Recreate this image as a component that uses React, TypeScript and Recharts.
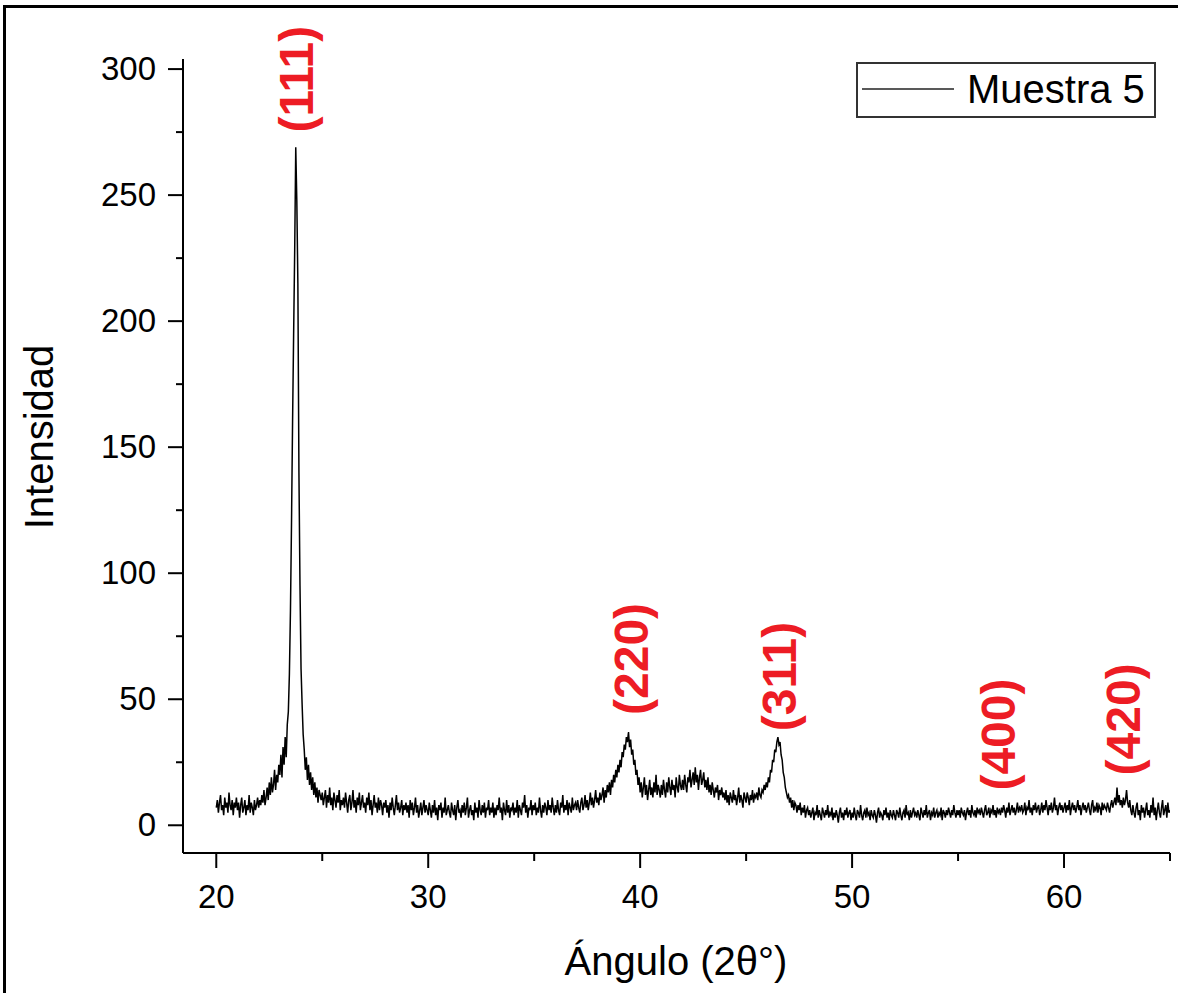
import { LineChart, Line, XAxis, YAxis, Legend, ReferenceDot, Label } from "recharts";

// XRD scan, 2θ from 20.00° in 0.05° steps (one row = one degree)
const angleStart = 20;
const angleStep = 0.05;

const intensity20s = [
  7, 10, 5, 9, 12, 6, 8, 4, 11, 7, 9, 5, 13, 8, 6, 10, 4, 9, 7, 11,
  6, 9, 3, 8, 11, 5, 7, 10, 4, 8, 6, 12, 5, 9, 7, 4, 10, 6, 8, 11,
  7, 10, 8, 12, 9, 14, 8, 11, 15, 10, 17, 12, 19, 13, 16, 22, 14, 20, 17, 24,
  20, 28, 19, 31, 24, 35, 27, 40, 45, 60, 85, 120, 160, 195, 228, 269, 248, 215, 140, 95,
  62, 48, 36, 30, 22, 27, 18, 24, 16, 21, 14, 19, 12, 17, 11, 15, 9, 14, 12, 10,
  13, 8, 11, 14, 7, 12, 9, 15, 8, 11, 6, 13, 10, 7, 12, 9, 14, 6, 10, 8,
  11, 7, 13, 9, 5, 10, 12, 6, 9, 14, 7, 10, 5, 11, 8, 13, 6, 9, 12, 7,
  9, 5, 11, 8, 13, 6, 10, 4, 8, 12, 7, 9, 5, 11, 6, 10, 8, 4, 9, 7,
  10, 5, 8, 3, 9, 6, 11, 7, 4, 8, 12, 6, 9, 5, 7, 10, 4, 8, 6, 9,
  5, 8, 3, 10, 6, 9, 4, 7, 11, 5, 8, 3, 6, 9, 4, 7, 10, 5, 8, 6,
];
const intensity30s = [
  4, 9, 6, 3, 8, 5, 10, 4, 7, 2, 8, 6, 9, 3, 7, 5, 11, 4, 6, 8,
  5, 3, 9, 6, 4, 8, 2, 7, 10, 5, 6, 3, 8, 5, 9, 4, 7, 11, 3, 6,
  8, 4, 6, 2, 9, 5, 7, 3, 10, 6, 4, 8, 5, 9, 3, 7, 6, 10, 4, 7,
  5, 9, 3, 7, 4, 8, 6, 11, 5, 7, 2, 9, 6, 4, 10, 5, 8, 3, 7, 6,
  9, 4, 7, 5, 10, 3, 8, 6, 4, 9, 7, 12, 5, 8, 3, 7, 6, 10, 4, 8,
  6, 9, 4, 7, 5, 11, 6, 3, 8, 5, 9, 7, 4, 10, 6, 8, 5, 11, 7, 4,
  8, 5, 10, 6, 4, 9, 7, 12, 5, 8, 6, 10, 4, 9, 7, 5, 11, 6, 8, 9,
  6, 10, 7, 5, 9, 11, 6, 8, 12, 7, 10, 6, 9, 13, 8, 11, 7, 10, 14, 9,
  11, 8, 13, 10, 12, 15, 9, 14, 11, 16, 13, 17, 12, 18, 15, 20, 17, 22, 19, 24,
  21, 26, 23, 29, 27, 32, 30, 35, 33, 37, 31, 34, 28, 30, 24, 26, 20, 22, 16, 19,
];
const intensity40s = [
  13, 17, 11, 15, 19, 12, 16, 10, 14, 18, 12, 15, 11, 17, 13, 20, 12, 16, 14, 11,
  16, 12, 18, 14, 11, 17, 13, 19, 15, 12, 18, 14, 16, 11, 19, 15, 13, 20, 16, 14,
  18, 14, 20, 16, 13, 19, 17, 22, 15, 18, 21, 16, 23, 17, 20, 14, 19, 22, 16, 18,
  21, 15, 18, 14, 19, 13, 16, 12, 17, 14, 11, 15, 13, 16, 10, 14, 12, 15, 11, 13,
  10, 14, 9, 12, 8, 13, 11, 9, 14, 10, 12, 8, 11, 15, 9, 12, 10, 7, 13, 11,
  9, 13, 11, 8, 12, 10, 14, 9, 12, 11, 13, 10, 15, 12, 11, 14, 13, 16, 14, 17,
  15, 19, 17, 22, 21, 26, 25, 30, 29, 33, 35, 32, 33, 28, 26, 21, 19, 15, 13, 11,
  12, 9, 11, 7, 10, 6, 9, 8, 5, 8, 6, 9, 4, 7, 5, 8, 3, 6, 7, 4,
  6, 3, 5, 7, 2, 5, 4, 8, 3, 6, 4, 2, 7, 5, 3, 6, 4, 8, 3, 5,
  4, 7, 2, 5, 3, 6, 4, 1, 5, 7, 3, 5, 2, 6, 4, 7, 3, 5, 6, 2,
];
const intensity50s = [
  5, 3, 7, 4, 2, 6, 5, 3, 8, 4, 2, 5, 6, 3, 7, 4, 5, 2, 6, 4,
  3, 6, 4, 1, 5, 7, 3, 5, 4, 2, 6, 4, 7, 3, 5, 2, 6, 4, 3, 6,
  4, 2, 6, 5, 3, 7, 4, 2, 5, 6, 3, 8, 4, 5, 2, 6, 3, 5, 7, 4,
  5, 3, 6, 4, 2, 7, 5, 3, 6, 4, 8, 3, 5, 6, 2, 5, 4, 7, 3, 5,
  6, 3, 5, 4, 7, 2, 6, 5, 3, 6, 4, 7, 5, 3, 6, 4, 8, 5, 3, 6,
  4, 6, 3, 7, 5, 4, 6, 2, 5, 7, 4, 6, 3, 8, 5, 4, 6, 3, 7, 5,
  6, 4, 7, 5, 3, 6, 8, 4, 5, 7, 3, 6, 5, 8, 4, 6, 3, 7, 5, 6,
  4, 7, 5, 8, 6, 3, 7, 5, 9, 4, 6, 8, 5, 7, 4, 6, 9, 5, 7, 6,
  8, 5, 6, 9, 4, 7, 6, 10, 5, 7, 4, 8, 6, 9, 5, 7, 8, 4, 6, 9,
  5, 8, 6, 10, 7, 4, 8, 6, 9, 5, 7, 11, 6, 8, 4, 7, 9, 6, 8, 5,
];
const intensity60s = [
  7, 9, 5, 8, 6, 10, 4, 7, 9, 6, 8, 5, 7, 10, 6, 8, 4, 7, 9, 6,
  8, 5, 7, 9, 6, 4, 8, 10, 5, 7, 6, 9, 5, 8, 7, 4, 9, 6, 8, 7,
  6, 9, 7, 5, 8, 10, 7, 9, 11, 8, 15, 9, 12, 8, 10, 7, 11, 8, 10, 14,
  9, 7, 10, 6, 4, 8, 5, 3, 7, 9, 4, 6, 2, 8, 5, 7, 3, 6, 9, 4,
  6, 3, 8, 5, 11, 4, 7, 2, 6, 9, 5, 3, 7, 10, 4, 6, 8, 3, 9, 5,
  6,
];

const xTicks = [20, 25, 30, 35, 40, 45, 50, 55, 60, 65];
const yTicks = [0, 25, 50, 75, 100, 125, 150, 175, 200, 225, 250, 275, 300];

const peakLabels = ["(111)", "(220)", "(311)", "(400)", "(420)"];
const peakLabelAngles = [23.77, 39.6, 46.57, 56.93, 62.82];
const peakLabelHeights = [296, 66, 59, 36, 42];

const data = [...intensity20s, ...intensity30s, ...intensity40s, ...intensity50s, ...intensity60s].map(
  (v, i) => ({ angle: +(angleStart + i * angleStep).toFixed(2), intensity: v })
);

const FONT = "'Liberation Sans', Arial, sans-serif";

function XTick(props: any) {
  const { x, y, payload } = props;
  const major = payload.value % 10 === 0;
  return (
    <g>
      <line x1={x} x2={x} y1={y} y2={y + (major ? 15 : 8)} stroke="#000" strokeWidth={2} />
      {major && payload.value < 65 && (
        <text x={x} y={y + 55} textAnchor="middle" fontSize={33} fontFamily={FONT} fill="#000">
          {payload.value}
        </text>
      )}
    </g>
  );
}

function YTick(props: any) {
  const { x, y, payload } = props;
  const major = payload.value % 50 === 0;
  return (
    <g>
      <line x1={x} x2={x - (major ? 15 : 7)} y1={y} y2={y} stroke="#000" strokeWidth={2} />
      {major && (
        <text x={x - 27} y={y + 11} textAnchor="end" fontSize={33} fontFamily={FONT} fill="#000">
          {payload.value}
        </text>
      )}
    </g>
  );
}

function PeakLabel(text: string) {
  return (props: any) => {
    const { cx, cy } = props;
    return (
      <text
        x={cx}
        y={cy}
        transform={`rotate(-90 ${cx} ${cy})`}
        textAnchor="middle"
        dominantBaseline="central"
        fontSize={48}
        fontWeight="bold"
        fontFamily={FONT}
        fill="#ED1C24"
      >
        {text}
      </text>
    );
  };
}

function LegendBox() {
  return (
    <svg width={300} height={56}>
      <rect x={1} y={1} width={298} height={54} fill="#fff" stroke="#333" strokeWidth={2} />
      <line x1={6} x2={98} y1={27} y2={27} stroke="#222" strokeWidth={1.5} />
      <text x={111} y={41} fontSize={40} fontFamily={FONT} fill="#000">
        Muestra 5
      </text>
    </svg>
  );
}

export default function App() {
  return (
    <div
      style={{
        position: "absolute",
        left: 0,
        top: 0,
        width: 1178,
        height: 993,
        background: "#fff",
        overflow: "hidden",
      }}
    >
      <div
        style={{
          position: "absolute",
          left: 3,
          top: 5,
          width: 1300,
          height: 1100,
          border: "3px solid #000",
        }}
      />
      <div style={{ position: "absolute", left: 0, top: 0 }}>
        <LineChart width={1178} height={993} data={data} margin={{ top: 59, right: 8, bottom: 0, left: 0 }}>
          <XAxis
            dataKey="angle"
            type="number"
            domain={[18.43, 65]}
            ticks={xTicks}
            interval={0}
            allowDataOverflow
            tickLine={false}
            tickSize={0}
            tickMargin={0}
            tick={XTick}
            height={140}
            axisLine={{ stroke: "#000", strokeWidth: 2 }}
          >
            <Label
              content={() => (
                <text x={676} y={975} textAnchor="middle" fontSize={40} fontFamily={FONT} fill="#000">
                  Ángulo (2θ°)
                </text>
              )}
            />
          </XAxis>
          <YAxis
            type="number"
            domain={[-11, 304]}
            ticks={yTicks}
            interval={0}
            allowDataOverflow
            tickLine={false}
            tickSize={0}
            tickMargin={0}
            tick={YTick}
            width={183}
            axisLine={{ stroke: "#000", strokeWidth: 2 }}
          >
            <Label
              content={() => (
                <text
                  x={53}
                  y={437}
                  transform="rotate(-90 53 437)"
                  textAnchor="middle"
                  fontSize={40}
                  fontFamily={FONT}
                  fill="#000"
                >
                  Intensidad
                </text>
              )}
            />
          </YAxis>
          <Legend
            layout="horizontal"
            verticalAlign="middle"
            align="center"
            content={LegendBox}
            wrapperStyle={{ position: "absolute", left: 856, top: 62, width: 300, height: 56 }}
          />
          <Line
            type="linear"
            dataKey="intensity"
            name="Muestra 5"
            stroke="#000"
            strokeWidth={1.5}
            dot={false}
            isAnimationActive={false}
          />
          {peakLabels.map((t, i) => (
            <ReferenceDot
              key={t}
              x={peakLabelAngles[i]}
              y={peakLabelHeights[i]}
              r={0}
              ifOverflow="visible"
              shape={PeakLabel(t)}
            />
          ))}
        </LineChart>
      </div>
    </div>
  );
}
